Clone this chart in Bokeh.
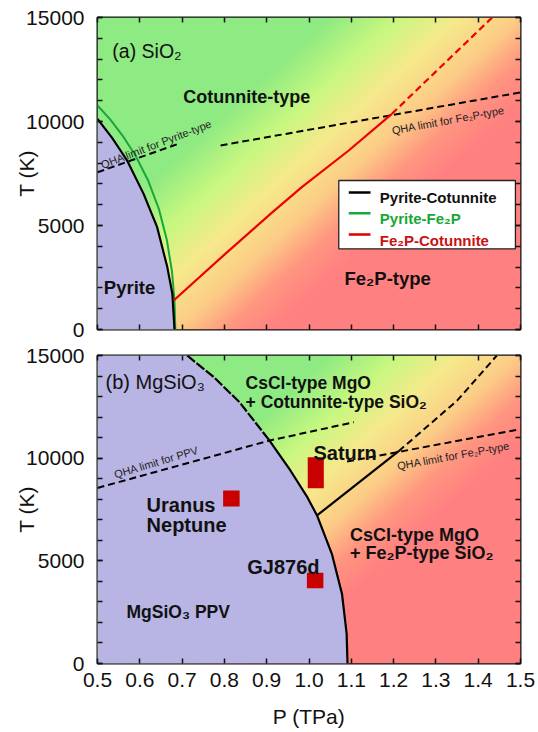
import numpy as np
from bokeh.plotting import figure
from bokeh.layouts import column
from bokeh.models import FixedTicker, LinearAxis, Label, Range1d
from bokeh.embed import file_html
from bokeh.resources import INLINE

# ---------------- data ----------------
x_ticks = [0.5, 0.6, 0.7, 0.8, 0.9, 1.0, 1.1, 1.2, 1.3, 1.4, 1.5]
x_tick_labels = ["0.5", "0.6", "0.7", "0.8", "0.9", "1.0", "1.1", "1.2", "1.3", "1.4", "1.5"]
y_major = [0, 5000, 10000, 15000]
y_minor = [0, 1000, 2000, 3000, 4000, 5000, 6000, 7000, 8000, 9000, 10000,
           11000, 12000, 13000, 14000, 15000]

# panel (a) SiO2
pyr_cot_P = [0.500, 0.535, 0.570, 0.609, 0.641, 0.665, 0.677, 0.682]
pyr_cot_T = [10130, 9200, 8125, 6520, 4920, 3000, 1720, 0]
pyr_fe2p_P = [0.500, 0.530, 0.560, 0.590, 0.620, 0.645, 0.664, 0.676, 0.682, 0.684]
pyr_fe2p_T = [10770, 10100, 9300, 8350, 7150, 5800, 4300, 2800, 1400, 0]
fe2p_cot_P = [0.680, 0.800, 0.909, 0.983, 1.094, 1.196]
fe2p_cot_T = [1394, 3600, 5560, 6843, 8606, 10370]
fe2p_cot_ext_P = [1.196, 1.433]
fe2p_cot_ext_T = [10370, 15000]
qha_pyr_P = [0.500, 0.696]
qha_pyr_T = [7560, 8960]
qha_fe2p_a_P = [0.791, 1.500]
qha_fe2p_a_T = [8850, 11400]

# panel (b) MgSiO3
ppv_dash_P = [0.712, 0.775, 0.836, 0.905]
ppv_dash_T = [15000, 13945, 12720, 10900]
ppv_solid_P = [0.905, 0.956, 0.996, 1.019, 1.054, 1.078, 1.089, 1.091]
ppv_solid_T = [10900, 9400, 8100, 7210, 5340, 3390, 1450, 0]
cot_fe2p_P = [1.019, 1.212]
cot_fe2p_T = [7210, 10340]
cot_fe2p_ext_P = [1.212, 1.350, 1.444]
cot_fe2p_ext_T = [10340, 12800, 15000]
qha_ppv_P = [0.500, 0.905, 1.106]
qha_ppv_T = [8550, 10850, 11750]
qha_fe2p_b_P = [1.090, 1.500]
qha_fe2p_b_T = [9840, 11410]

planet_names = ["Uranus/Neptune", "Saturn", "GJ876d"]
planet_P_lo = [0.797, 0.997, 0.995]
planet_P_hi = [0.836, 1.035, 1.034]
planet_T_lo = [7650, 8540, 3670]
planet_T_hi = [8420, 10050, 4420]

FONT = "Liberation Sans"
LAV = "#b8b4e4"


def gradient_image():
    nx, ny = 240, 180
    P = np.linspace(0.5, 1.5, nx)
    T = np.linspace(0, 15000, ny)
    PP, TT = np.meshgrid(P, T)
    u = (PP - 0.5) * 423 + (15000 - TT) / 15000 * 312 * 1.09
    stops = [0, 230, 300, 360, 420, 470, 520, 900]
    cols = [(142, 234, 130), (142, 234, 130), (200, 248, 128), (246, 234, 140),
            (252, 205, 135), (255, 150, 128), (255, 128, 128), (255, 128, 128)]
    img = np.empty((ny, nx), dtype=np.uint32)
    view = img.view(dtype=np.uint8).reshape((ny, nx, 4))
    for k in range(3):
        view[:, :, k] = np.interp(u, stops, [c[k] for c in cols]).astype(np.uint8)
    view[:, :, 3] = 255
    return img


def make_fig(height, btop, bbottom, show_x):
    p = figure(width=536, height=height, x_range=Range1d(0.5, 1.5), y_range=Range1d(0, 15000),
               output_backend="svg", toolbar_location=None,
               min_border_left=97, min_border_right=16,
               min_border_top=btop, min_border_bottom=bbottom)
    p.grid.visible = False
    p.outline_line_color = "#111111"
    p.outline_line_width = 2
    p.background_fill_color = "white"

    xt = FixedTicker(ticks=x_ticks)
    yt = FixedTicker(ticks=y_major, minor_ticks=y_minor)

    def style(ax, labels, ticks):
        ax.axis_line_color = None
        ax.major_tick_in = 5
        ax.major_tick_out = 0
        ax.minor_tick_in = 5
        ax.minor_tick_out = 0
        ax.major_tick_line_color = "#111111"
        ax.minor_tick_line_color = "#111111"
        ax.major_tick_line_width = 1.5
        ax.minor_tick_line_width = 1.5
        ax.major_label_text_font = FONT
        ax.major_label_text_color = "#111111"
        if labels:
            ax.major_label_text_font_size = "21px"
        else:
            ax.major_label_text_font_size = "1px"
            ax.major_label_standoff = 0
            ax.major_label_overrides = {t: "" for t in ticks}

    xa = p.xaxis[0]
    xa.ticker = xt
    style(xa, show_x, x_ticks)
    if show_x:
        xa.major_label_overrides = {t: s for t, s in zip(x_ticks, x_tick_labels)}
    xa.minor_tick_line_color = None
    if show_x:
        xa.major_label_standoff = 9
        xa.axis_label = "P (TPa)"
        xa.axis_label_text_font = FONT
        xa.axis_label_text_font_size = "21px"
        xa.axis_label_text_font_style = "normal"
        xa.axis_label_text_color = "#111111"
        xa.axis_label_standoff = 15

    ya = p.yaxis[0]
    ya.ticker = yt
    style(ya, True, y_major)
    ya.major_label_standoff = 13
    ya.axis_label = "T (K)"
    ya.axis_label_text_font = FONT
    ya.axis_label_text_font_size = "21px"
    ya.axis_label_text_font_style = "normal"
    ya.axis_label_text_color = "#111111"
    ya.axis_label_standoff = -15

    ra = LinearAxis(ticker=yt)
    style(ra, False, y_major)
    p.add_layout(ra, "right")
    ta = LinearAxis(ticker=xt)
    style(ta, False, x_ticks)
    ta.minor_tick_line_color = None
    p.add_layout(ta, "above")

    p.image_rgba(image=[gradient_image()], x=0.5, y=0, dw=1.0, dh=15000)
    return p


def label(p, x, y, text, size, bold=False, color="#111111", angle=0.0):
    p.add_layout(Label(x=x, y=y, text=text, text_font=FONT, text_font_size=size,
                       text_font_style="bold" if bold else "normal", text_color=color,
                       text_baseline="alphabetic", text_align="left", angle=angle))


DASH = "7 4"

# ---------------- panel (a) ----------------
p1 = make_fig(342, 17, 13, False)
p1.patch([0.5] + pyr_cot_P, [0] + pyr_cot_T, fill_color=LAV, line_color=None)
p1.line(qha_pyr_P, qha_pyr_T, line_color="black", line_width=2, line_dash=DASH)
p1.line(qha_fe2p_a_P, qha_fe2p_a_T, line_color="black", line_width=2, line_dash=DASH)
p1.line(pyr_fe2p_P, pyr_fe2p_T, line_color="#16a83a", line_width=2)
p1.line(pyr_cot_P, pyr_cot_T, line_color="black", line_width=2.2)
p1.line(fe2p_cot_P, fe2p_cot_T, line_color="#ee0000", line_width=2.2)
p1.line(fe2p_cot_ext_P, fe2p_cot_ext_T, line_color="#ee0000", line_width=2.2, line_dash=DASH)

# legend box
leg_L, leg_R, leg_B, leg_T = 1.0704, 1.488, 3880, 7163
p1.quad(left=[leg_L], right=[leg_R], bottom=[leg_B], top=[leg_T], fill_color="white",
        line_color="#222222", line_width=1.3)
leg_rows_T = [6587, 5591, 4567]
leg_cols = ["black", "#16a83a", "#dd0000"]
p1.segment(x0=[1.094] * 3, x1=[1.1454] * 3, y0=leg_rows_T, y1=leg_rows_T,
           line_color=leg_cols, line_width=2.5)
label(p1, 1.1674, 6327, "Pyrite-Cotunnite", "15px", True, "#111111")
label(p1, 1.1674, 5313, "Pyrite-Fe\u2082P", "15px", True, "#17a836")
label(p1, 1.1674, 4298, "Fe\u2082P-Cotunnite", "15px", True, "#cc1111")

label(p1, 0.535, 13400, "(a) SiO\u2082", "19.5px")
label(p1, 0.703, 11200, "Cotunnite-type", "18px", True)
label(p1, 0.515, 2005, "Pyrite", "18.5px", True)
label(p1, 1.084, 2437, "Fe\u2082P-type", "18.5px", True)
label(p1, 0.509, 7900, "QHA limit for Pyrite-type", "11px", False, "#222222", 0.366)
label(p1, 1.196, 9560, "QHA limit for Fe\u2082P-type", "11px", False, "#222222", 0.183)

# ---------------- panel (b) ----------------
p2 = make_fig(388, 13, 67, True)
p2.patch([0.5, 0.5] + ppv_dash_P + ppv_solid_P[1:], [0, 15000] + ppv_dash_T + ppv_solid_T[1:],
         fill_color=LAV, line_color=None)
p2.line(qha_ppv_P, qha_ppv_T, line_color="black", line_width=2, line_dash=DASH)
p2.line(qha_fe2p_b_P, qha_fe2p_b_T, line_color="black", line_width=2, line_dash=DASH)
p2.line(ppv_dash_P, ppv_dash_T, line_color="black", line_width=2.2, line_dash="10 2")
p2.line(ppv_solid_P, ppv_solid_T, line_color="black", line_width=2.2)
p2.line(cot_fe2p_P, cot_fe2p_T, line_color="black", line_width=2.2)
p2.line(cot_fe2p_ext_P, cot_fe2p_ext_T, line_color="black", line_width=2, line_dash=DASH)
p2.quad(left=planet_P_lo, right=planet_P_hi, bottom=planet_T_lo, top=planet_T_hi,
        fill_color="#c80000", line_color=None)

label(p2, 0.519, 13700, "(b) MgSiO\u2083", "20px")
label(p2, 0.850, 13650, "CsCl-type MgO", "17.5px", True)
label(p2, 0.850, 12730, "+ Cotunnite-type SiO\u2082", "17.5px", True)
label(p2, 1.0106, 10240, "Saturn", "20px", True)
label(p2, 0.616, 7740, "Uranus", "20px", True)
label(p2, 0.616, 6755, "Neptune", "20px", True)
label(p2, 0.854, 4690, "GJ876d", "20px", True)
label(p2, 0.5686, 2500, "MgSiO\u2083 PPV", "17.5px", True)
label(p2, 1.097, 6280, "CsCl-type MgO", "18px", True)
label(p2, 1.097, 5390, "+ Fe\u2082P-type SiO\u2082", "18px", True)
label(p2, 0.540, 9200, "QHA limit for PPV", "11px", False, "#222222", 0.29)
label(p2, 1.2085, 9610, "QHA limit for Fe\u2082P-type", "11px", False, "#222222", 0.183)

layout = column(p1, p2)
open("out.html", "w").write(file_html(layout, INLINE))
